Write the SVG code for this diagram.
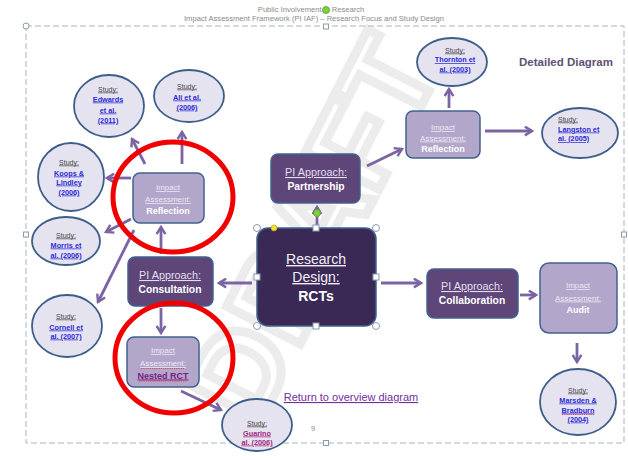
<svg xmlns="http://www.w3.org/2000/svg" width="628" height="460" viewBox="0 0 628 460">
<style>
.t{font-family:"Liberation Sans",Arial,sans-serif;text-anchor:middle}
.title{font-size:7.6px;fill:#8a8a8a}
.box{stroke:#41618f;stroke-width:1.5}
.pi{fill:#5e4679}
.ia{fill:#b3a6cb}
.rd{fill:#3b2955}
.oval{fill:#e6e3f0;stroke:#3d5d8a;stroke-width:1.8}
.lbl{fill:#e4def0;text-decoration:underline}
.wb{fill:#ffffff;font-weight:bold}
.ial{fill:#ece8f4;font-size:8px;text-decoration:underline}
.iab{fill:#ffffff;font-size:9px;font-weight:bold}
.st{font-size:7px;fill:#444;text-decoration:underline}
.ln{font-size:7.3px;fill:#2b2bd6;font-weight:bold;text-decoration:underline}
.lnv{font-size:7.3px;fill:#a1287f;font-weight:bold;text-decoration:underline}
.arr{stroke:#7b64a3;stroke-width:2.8;fill:none;marker-end:url(#ah)}
.hc{fill:#fff;stroke:#8c9aae;stroke-width:1}
.red{fill:none;stroke:#f00000;stroke-width:5}
.sq{stroke:#e03030;stroke-width:0.8;stroke-dasharray:1.2 1}
</style>
<defs>
<marker id="ah" viewBox="0 0 10 10" refX="8" refY="5" markerWidth="11" markerHeight="11" markerUnits="userSpaceOnUse" orient="auto">
<path d="M1.5,1 L8,5 L1.5,9" fill="none" stroke="#7b64a3" stroke-width="2.2"/>
</marker>
</defs>
<rect width="628" height="460" fill="#ffffff"/>
<g id="watermark">
<text x="0" y="42" transform="translate(312,228) rotate(-63)" class="t" style="font-size:120px;font-weight:bold;fill:none;stroke:#ececec;stroke-width:9">DRAFT</text>
</g>
<g id="frame">
<rect x="26" y="26" width="598" height="417" fill="none" stroke="#aab3bf" stroke-width="1" stroke-dasharray="6 3"/>
<circle cx="26" cy="26" r="3" class="hc"/>
<rect x="23.5" y="232" width="5" height="5" class="hc"/>
<rect x="621.5" y="232" width="5" height="5" class="hc"/>
<rect x="323.5" y="24" width="5" height="5" class="hc"/>
<rect x="323.5" y="440.5" width="5" height="5" class="hc"/>
</g>
<g id="title">
<text class="t title" x="311" y="11.5">Public Involvement in Research</text>
<text class="t title" x="314" y="20.5">Impact Assessment Framework (PI IAF) – Research Focus and Study Design</text>
<circle cx="326" cy="10" r="3.5" fill="#7fcf3f" stroke="#5a9a2a" stroke-width="0.8"/>
</g>
<text id="detailed" x="566" y="66" class="t" style="font-size:11.5px;font-weight:bold;fill:#5f5075">Detailed Diagram</text>
<g id="connectors">
<line x1="317" y1="226" x2="317" y2="207" class="arr"/>
<line x1="367" y1="166" x2="402" y2="149" class="arr"/>
<line x1="449" y1="108" x2="449" y2="89" class="arr"/>
<line x1="485" y1="131" x2="532" y2="131" class="arr"/>
<line x1="381" y1="283" x2="421" y2="283" class="arr"/>
<line x1="520" y1="295" x2="536" y2="295" class="arr"/>
<line x1="577" y1="343" x2="577" y2="362" class="arr"/>
<line x1="252" y1="283" x2="219" y2="283" class="arr"/>
<line x1="161" y1="254" x2="161" y2="227" class="arr"/>
<line x1="161" y1="308" x2="161" y2="333" class="arr"/>
<line x1="145" y1="164" x2="132" y2="139" class="arr"/>
<line x1="182" y1="164" x2="182" y2="132" class="arr"/>
<line x1="131" y1="178" x2="107" y2="178" class="arr"/>
<line x1="131" y1="219" x2="106" y2="232" class="arr"/>
<line x1="134" y1="230" x2="98" y2="302" class="arr"/>
<line x1="181" y1="391" x2="221" y2="410" class="arr"/>
</g>
<g id="research-design">
<rect x="257" y="228" width="119" height="98" rx="11" class="box rd"/>
<text class="t lbl" x="316" y="264" style="font-size:14px;fill:#f2eef8">Research</text>
<text class="t lbl" x="316" y="282" style="font-size:14px;fill:#f2eef8">Design:</text>
<text class="t wb" x="316" y="301" style="font-size:14px">RCTs</text>
<circle cx="257" cy="228" r="3.5" class="hc"/>
<circle cx="376" cy="228" r="3.5" class="hc"/>
<circle cx="257" cy="326" r="3.5" class="hc"/>
<circle cx="376" cy="326" r="3.5" class="hc"/>
<rect x="313" y="225" width="6" height="6" class="hc"/>
<rect x="313" y="323" width="6" height="6" class="hc"/>
<rect x="254" y="274" width="6" height="6" class="hc"/>
<rect x="373" y="274" width="6" height="6" class="hc"/>
<circle cx="274" cy="228" r="3" fill="#f2e030" stroke="#b0a020" stroke-width="0.6"/>
<circle cx="317" cy="213" r="3.5" fill="#7fcf3f" stroke="#5a9a2a" stroke-width="0.8"/>
</g>
<g id="partnership">
<rect x="271" y="154" width="89" height="49" rx="7" class="box pi"/>
<text class="t lbl" x="316" y="176" style="font-size:10.8px">PI Approach:</text>
<text class="t wb" x="316" y="190" style="font-size:10.3px">Partnership</text>
</g>
<g id="reflection-right">
<rect x="406" y="111" width="74" height="47" rx="7" class="box ia"/>
<text class="t ial" x="443" y="130">Impact</text>
<text class="t ial" x="443" y="140.5">Assessment:</text>
<text class="t iab" x="443" y="151.5">Reflection</text>
</g>
<g id="thornton">
<ellipse cx="452" cy="62" rx="35" ry="24" class="oval"/>
<text class="t st" x="455" y="52.5">Study:</text>
<text class="t ln" x="455" y="62">Thornton et</text>
<text class="t ln" x="455" y="71.5">al. (2003)</text>
</g>
<g id="langston">
<ellipse cx="580" cy="133" rx="38" ry="25" class="oval"/>
<text class="st" x="558" y="121.5" style="font-family:'Liberation Sans',Arial,sans-serif">Study:</text>
<text class="ln" x="558" y="131.5" style="font-family:'Liberation Sans',Arial,sans-serif">Langston et</text>
<text class="ln" x="558" y="141" style="font-family:'Liberation Sans',Arial,sans-serif">al. (2005)</text>
</g>
<g id="collaboration">
<rect x="427" y="269" width="91" height="49" rx="7" class="box pi"/>
<text class="t lbl" x="472" y="290" style="font-size:10.8px">PI Approach:</text>
<text class="t wb" x="472" y="304" style="font-size:10.3px">Collaboration</text>
</g>
<g id="audit">
<rect x="540" y="263" width="77" height="70" rx="9" class="box ia"/>
<text class="t ial" x="578" y="288">Impact</text>
<text class="t ial" x="578" y="300.5">Assessment:</text>
<text class="t iab" x="578" y="313">Audit</text>
</g>
<g id="marsden">
<ellipse cx="578" cy="402" rx="38" ry="33" class="oval"/>
<text class="t st" x="578" y="392.5">Study:</text>
<text class="t ln" x="578" y="402.5">Marsden &amp;</text>
<text class="t ln" x="578" y="412.5">Bradburn</text>
<line x1="562" y1="414.5" x2="594" y2="414.5" class="sq"/>
<text class="t ln" x="578" y="421.5">(2004)</text>
</g>
<g id="consultation">
<rect x="128" y="257" width="85" height="49" rx="7" class="box pi"/>
<text class="t lbl" x="170" y="279" style="font-size:10.8px">PI Approach:</text>
<text class="t wb" x="170" y="292.5" style="font-size:10.3px">Consultation</text>
</g>
<g id="reflection-left">
<rect x="133" y="173" width="71" height="50" rx="7" class="box ia"/>
<text class="t ial" x="168" y="190">Impact</text>
<text class="t ial" x="168" y="202">Assessment:</text>
<text class="t iab" x="168" y="214">Reflection</text>
</g>
<g id="nested-rct">
<rect x="127" y="337" width="72" height="50" rx="7" class="box ia"/>
<text class="t ial" x="163" y="353">Impact</text>
<text class="t ial" x="163" y="366">Assessment:</text>
<line x1="141" y1="368.5" x2="185" y2="368.5" class="sq"/>
<text class="t" x="163" y="378.5" style="font-size:9px;font-weight:bold;fill:#7a1f7f;text-decoration:underline">Nested RCT</text>
<line x1="139" y1="381" x2="187" y2="381" class="sq"/>
</g>
<g id="edwards">
<ellipse cx="109" cy="106" rx="35" ry="31" class="oval"/>
<text class="t st" x="108" y="91.5">Study:</text>
<text class="t ln" x="108" y="101.5">Edwards</text>
<text class="t ln" x="108" y="112.5">et al.</text>
<text class="t ln" x="108" y="122.5">(2011)</text>
</g>
<g id="ali">
<ellipse cx="189" cy="96" rx="35" ry="26" class="oval"/>
<text class="t st" x="187" y="88.5">Study:</text>
<text class="t ln" x="187" y="99.5">Ali et al.</text>
<text class="t ln" x="187" y="109.5">(2006)</text>
</g>
<g id="koops">
<ellipse cx="71" cy="177" rx="33" ry="34" class="oval"/>
<text class="t st" x="69" y="164.5">Study:</text>
<text class="t ln" x="69" y="175.5">Koops &amp;</text>
<text class="t ln" x="69" y="184.5">Lindley</text>
<text class="t ln" x="69" y="194.5">(2006)</text>
</g>
<g id="morris">
<ellipse cx="66" cy="241" rx="34" ry="24" class="oval"/>
<text class="t st" x="66" y="237.5">Study:</text>
<text class="t ln" x="66" y="247.5">Morris et</text>
<text class="t ln" x="66" y="257.5">al. (2006)</text>
</g>
<g id="cornell">
<ellipse cx="67" cy="326" rx="35" ry="31" class="oval"/>
<text class="t st" x="66" y="318.5">Study:</text>
<text class="t ln" x="66" y="329.5">Cornell et</text>
<text class="t ln" x="66" y="338.5">al. (2007)</text>
</g>
<g id="guarino">
<ellipse cx="257" cy="425" rx="35" ry="26" class="oval"/>
<text class="t st" x="257" y="425.5">Study:</text>
<text class="t lnv" x="257" y="435.5">Guarino</text>
<text class="t lnv" x="257" y="444.5">al. (2006)</text>
</g>
<text id="return-link" class="t" x="351" y="401" style="font-size:11px;fill:#7030a0;text-decoration:underline">Return to overview diagram</text>
<text id="page-number" class="t" x="313" y="431" style="font-size:7.5px;fill:#8a8a8a">9</text>
<g id="highlights">
<ellipse cx="173" cy="197" rx="60" ry="55" class="red"/>
<ellipse cx="174" cy="358" rx="59" ry="55" class="red"/>
</g>
</svg>
